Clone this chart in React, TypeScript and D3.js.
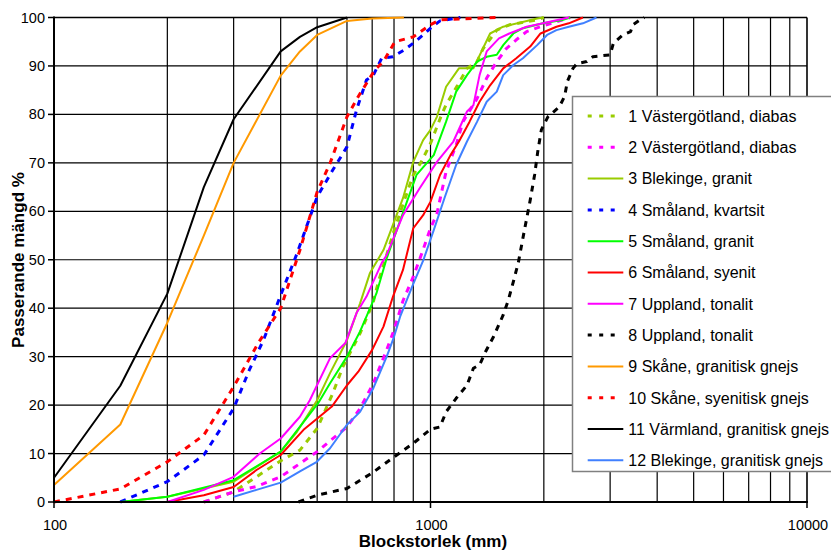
import React from "react";
import * as d3 from "d3";

const W = 831;
const H = 551;

// ---- data ----
const names = [
  "1 Västergötland, diabas",
  "2 Västergötland, diabas",
  "3 Blekinge, granit",
  "4 Småland, kvartsit",
  "5 Småland, granit",
  "6 Småland, syenit",
  "7 Uppland, tonalit",
  "8 Uppland, tonalit",
  "9 Skåne, granitisk gnejs",
  "10 Skåne, syenitisk gnejs",
  "11 Värmland, granitisk gnejs",
  "12 Blekinge, granitisk gnejs",
];
const colors = [
  "#99cc00", "#ff00ff", "#99cc00", "#0000ff", "#00ff00", "#ff0000",
  "#ff00ff", "#000000", "#ff9900", "#ff0000", "#000000", "#4080ff",
];
const dashed = [true, true, false, true, false, false, false, true, false, true, false, false];

const s1x = [250, 300, 400, 450, 500, 550, 585, 650, 705, 725, 800, 850, 900, 945, 1000, 1070, 1100, 1180, 1250, 1330, 1380, 1500, 1620, 1920, 2000];
const s1y = [0, 2.1, 8.5, 10.7, 15.2, 22.4, 27.9, 34.8, 41.3, 45.1, 56, 62, 67.5, 70.2, 74, 79.9, 82, 86, 89.5, 90.9, 93.6, 97.4, 98.5, 99.5, 100];

const s2x = [250, 300, 345, 400, 500, 600, 650, 705, 765, 800, 845, 900, 950, 1000, 1040, 1100, 1170, 1220, 1330, 1410, 1500, 1590, 1690, 1800, 1960, 2160, 2350];
const s2y = [0, 2.1, 3.2, 5.2, 10.4, 15.5, 19.3, 24.5, 31.4, 35.5, 41.5, 46.5, 51.5, 56.5, 59.5, 68.2, 73.7, 78.5, 83.3, 87.5, 90.9, 93.6, 95.4, 97.1, 98.1, 99.1, 100];

const s3x = [150, 200, 300, 400, 442, 500, 541, 600, 650, 690, 750, 845, 900, 956, 1000, 1040, 1100, 1190, 1300, 1440, 1560, 1920, 2000];
const s3y = [0, 1.1, 4.2, 10.4, 14.5, 21, 26.6, 33.4, 41, 47.2, 52, 62.7, 70.2, 74.7, 76.8, 79.5, 85.7, 89.5, 89.5, 96.7, 98.1, 99.8, 100];

const s4x = [150, 200, 250, 300, 330, 360, 400, 442, 500, 550, 600, 636, 676, 705, 742, 795, 847, 900, 956, 1010, 1060, 1200];
const s4y = [0, 4.2, 9.7, 19.3, 27.2, 33.4, 42.7, 51.3, 63, 68.5, 73.3, 80.9, 87.1, 88.1, 91.6, 91.9, 93.2, 94.7, 96.4, 98.1, 99.3, 100];

const s5x = [150, 200, 300, 400, 503, 541, 600, 650, 718, 765, 866, 918, 1020, 1100, 1170, 1250, 1330, 1410, 1500, 1560, 1660, 1760, 1990, 2240, 2350];
const s5y = [0, 1.1, 4.5, 10.4, 20.4, 24.5, 30, 35.2, 43, 50.3, 62, 67.5, 71.6, 78.5, 84.7, 88.1, 90.9, 91.9, 92.3, 94.3, 96.7, 97.8, 98.8, 99.5, 100];

const s6x = [200, 250, 300, 345, 400, 460, 547, 600, 643, 700, 750, 795, 845, 900, 956, 1000, 1060, 1130, 1190, 1270, 1350, 1440, 1560, 1690, 1840, 1960, 2160, 2330, 2540];
const s6y = [0, 1.4, 3.1, 6.6, 9.7, 14.9, 19.7, 24.1, 26.9, 31.4, 36.2, 42.4, 47.9, 56.5, 59.2, 62, 67.5, 71.6, 74.4, 78.5, 82.6, 86, 89.5, 91.6, 94, 96.7, 98.1, 98.8, 100];

const s7x = [200, 250, 300, 352, 400, 450, 478, 541, 594, 636, 676, 742, 765, 845, 935, 1040, 1150, 1250, 1300, 1350, 1410, 1520, 1620, 1800, 1990, 2330];
const s7y = [0, 2.5, 5.2, 10, 13.1, 17.6, 21, 29.7, 32.8, 39, 42.4, 49.3, 51, 59.2, 64.7, 70.2, 74.4, 80.6, 81.9, 88.1, 93, 95.7, 96.7, 98.1, 98.8, 100];

const s8x = [446, 500, 600, 700, 800, 900, 1000, 1060, 1100, 1170, 1250, 1300, 1350, 1400, 1470, 1560, 1610, 1660, 1710, 1770, 1840, 1890, 1930, 1970, 2050, 2200, 2270, 2310, 2390, 2450, 2600, 2700, 3000, 3060, 3240, 3400, 3450, 3600, 3700];
const s8y = [0, 1.4, 2.8, 6, 9.3, 12.1, 15, 15.5, 18.6, 21.4, 24.1, 27.6, 28.3, 31, 34.1, 38.6, 41.7, 45.5, 49.3, 55.5, 62.3, 67.5, 72.7, 76.8, 79.5, 81.6, 83.7, 86.8, 89.5, 90.5, 90.9, 91.9, 92.3, 94.7, 96.4, 97.1, 98.5, 99.5, 100];

const s9x = [100, 150, 200, 250, 300, 400, 450, 500, 600, 700, 850];
const s9y = [3.5, 16, 37, 55, 70, 88, 93, 96.4, 99.3, 99.8, 100];

const s10x = [100, 150, 200, 250, 300, 350, 400, 450, 500, 541, 600, 643, 712, 750, 804, 900, 1000, 1060, 1500];
const s10y = [0, 2.7, 8.3, 13.8, 23.8, 33, 40, 52, 64, 69.9, 79.5, 83.7, 89.2, 90.9, 95, 96, 98.5, 99.5, 100];

const s11x = [100, 150, 200, 250, 300, 400, 450, 500, 600];
const s11y = [5, 24, 43, 65, 79, 93, 96, 98, 100];

const s12x = [300, 345, 400, 450, 499, 541, 599, 650, 705, 765, 800, 830, 900, 956, 1020, 1090, 1170, 1250, 1330, 1410, 1500, 1560, 1660, 1760, 1920, 2040, 2160, 2330, 2540, 2760];
const s12y = [1.1, 2.5, 4, 6.3, 8.3, 11.1, 15.9, 18.6, 23.5, 30, 34.1, 38.2, 45, 49.8, 56.1, 62.8, 69.6, 74.4, 78.5, 82.6, 84.7, 88.1, 90.2, 91.6, 94.3, 96.4, 97.4, 98.1, 98.8, 100];

const seriesX = [s1x, s2x, s3x, s4x, s5x, s6x, s7x, s8x, s9x, s10x, s11x, s12x];
const seriesY = [s1y, s2y, s3y, s4y, s5y, s6y, s7y, s8y, s9y, s10y, s11y, s12y];

const yTicks = [0, 10, 20, 30, 40, 50, 60, 70, 80, 90, 100];
const xMajor = [100, 1000, 10000];
const xLabels = ["100", "1000", "10000"];

// ---- layout ----
const left = 54, right = 807, top = 17.5, bottom = 502;
const FONT = "'Liberation Sans', Arial, sans-serif";

export default function App() {
  const x = d3.scaleLog().domain([100, 10000]).range([left, right]);
  const y = d3.scaleLinear().domain([0, 100]).range([bottom, top]);

  const minor: number[] = [];
  for (const dec of [100, 1000]) for (let k = 2; k <= 9; k++) minor.push(dec * k);

  const line = d3
    .line<[number, number]>()
    .x((d) => x(d[0]))
    .y((d) => y(d[1]));

  const legX = 572.5, legY = 96.5, legH = 375;
  const rowY = (i: number) => 116 + i * 31.3;

  return (
    <svg
      width={W}
      height={H}
      style={{ position: "absolute", left: 0, top: 0, background: "#fff" }}
      fontFamily={FONT}
    >
      <rect x={0} y={0} width={W} height={H} fill="#fff" />
      {/* grid */}
      {yTicks.slice(1, -1).map((t) => (
        <line key={"h" + t} x1={left} x2={right} y1={y(t)} y2={y(t)} stroke="#000" strokeWidth={1.2} />
      ))}
      {[...minor, 1000].map((v) => (
        <line key={"v" + v} x1={x(v)} x2={x(v)} y1={top} y2={bottom} stroke="#000" strokeWidth={1.2} />
      ))}
      {/* border */}
      <line x1={left} x2={right} y1={top} y2={top} stroke="#000" strokeWidth={1.6} />
      <line x1={right} x2={right} y1={top} y2={bottom} stroke="#000" strokeWidth={1.6} />
      {/* series */}
      {seriesX.map((xs, i) => {
        const pts = xs.map((v, j) => [v, seriesY[i][j]] as [number, number]);
        return (
          <path
            key={"s" + i}
            d={line(pts) || ""}
            fill="none"
            stroke={colors[i]}
            strokeWidth={dashed[i] ? 3 : 2}
            strokeDasharray={dashed[i] ? "6,6" : undefined}
            strokeLinejoin="round"
          />
        );
      })}
      {/* axes */}
      <line x1={left} x2={left} y1={top - 1} y2={bottom + 1} stroke="#000" strokeWidth={2} />
      <line x1={left - 1} x2={right + 1} y1={bottom} y2={bottom} stroke="#000" strokeWidth={2} />
      {yTicks.map((t) => (
        <g key={"yt" + t}>
          <line x1={left - 6} x2={left} y1={y(t)} y2={y(t)} stroke="#000" strokeWidth={1.5} />
          <text x={45} y={y(t) + 5} textAnchor="end" fontSize={14.5} fill="#000">
            {t}
          </text>
        </g>
      ))}
      {xMajor.map((v, i) => (
        <g key={"xt" + v}>
          <line x1={x(v)} x2={x(v)} y1={bottom} y2={bottom + 6} stroke="#000" strokeWidth={1.5} />
          <text x={x(v) + 1} y={529.5} textAnchor="middle" fontSize={14.5} fill="#000">
            {xLabels[i]}
          </text>
        </g>
      ))}
      {/* axis titles */}
      <text x={433} y={547} textAnchor="middle" fontSize={17} fontWeight="bold" fill="#000">
        Blockstorlek (mm)
      </text>
      <text
        transform={`translate(24,260) rotate(-90)`}
        textAnchor="middle"
        fontSize={17}
        fontWeight="bold"
        fill="#000"
      >
        Passerande mängd %
      </text>
      {/* legend */}
      <rect x={legX} y={legY} width={300} height={legH} fill="#fff" stroke="#808080" strokeWidth={1.5} />
      {names.map((n, i) => (
        <g key={"l" + i}>
          <line
            x1={587.7}
            x2={dashed[i] ? 618 : 623.3}
            y1={rowY(i)}
            y2={rowY(i)}
            stroke={colors[i]}
            strokeWidth={dashed[i] ? 3 : 2}
            strokeDasharray={dashed[i] ? "4,7.5" : undefined}
          />
          <text x={628.3} y={rowY(i) + 5.8} fontSize={16} fill="#000">
            {n}
          </text>
        </g>
      ))}
    </svg>
  );
}
